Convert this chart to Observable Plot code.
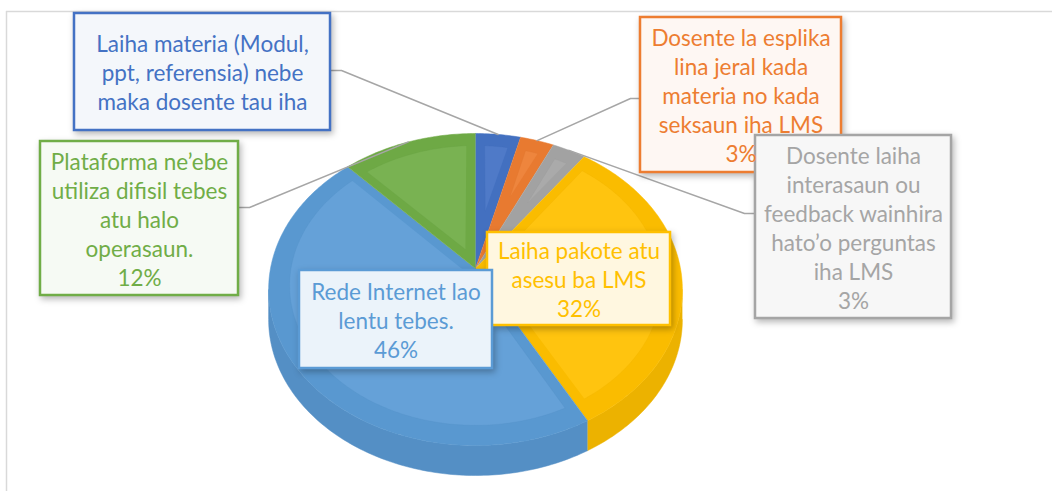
<!DOCTYPE html>
<html><head><meta charset="utf-8">
<script src="https://cdn.jsdelivr.net/npm/d3@7"></script>
<script src="https://cdn.jsdelivr.net/npm/@observablehq/plot@0.6"></script>
<style>html,body{margin:0;padding:0;background:#fff;}</style>
</head><body><div id="chart"></div>
<script>
// ---- data ----
const categories = [
  "Laiha materia (Modul,\nppt, referensia) nebe\nmaka dosente tau iha",
  "Dosente la esplika\nlina jeral kada\nmateria no kada\nseksaun iha LMS",
  "Dosente laiha\ninterasaun ou\nfeedback wainhira\nhato’o perguntas\niha LMS",
  "Laiha pakote atu\nasesu ba LMS",
  "Rede Internet lao\nlentu tebes.",
  "Plataforma ne’ebe\nutiliza difisil tebes\natu halo\noperasaun."
];
const values = [4, 3, 3, 32, 46, 12];
const percentLabels = ["", "3%", "3%", "32%", "46%", "12%"];
const colors = ["#4472C4", "#ED7D31", "#A5A5A5", "#FFC000", "#5B9BD5", "#70AD47"];

// ---- layout (positions / styles, not data) ----
const W = 1052, H = 491;
const geo = {cx: 475, A: 205, AY: 117.1, B: 268, C: -0.1346, depth: 30, ri: 0.9, d: 0.05};
const boxes = [
  {x1: 74, y1: 13, x2: 330, y2: 130, elbow: [[330, 70], [341, 70]], bgMix: 0.06},
  {x1: 640, y1: 17, x2: 841, y2: 172, elbow: [[640, 98], [630, 98]], bgMix: 0.06},
  {x1: 755, y1: 135, x2: 951, y2: 318, elbow: [[755, 213], [744, 213]], bgMix: 0.09},
  {x1: 487, y1: 232, x2: 670, y2: 325, elbow: null, bgMix: 0.12},
  {x1: 299, y1: 270, x2: 492, y2: 368, elbow: null, bgMix: 0.12},
  {x1: 40, y1: 141, x2: 238, y2: 295, elbow: [[238, 207], [249, 207]], bgMix: 0.06}
];

// ---- geometry from values ----
function proj(theta, r, dz = 0) {
  const u = r * Math.sin(theta), v = -r * Math.cos(theta);
  const w = 1 + geo.C * v;
  return [geo.cx + geo.A * u / w, (geo.AY * v + geo.B) / w + dz];
}
function arcPts(a0, a1, r, dz) {
  const n = Math.max(2, Math.ceil((a1 - a0) / (Math.PI / 180)));
  return d3.range(n + 1).map(i => proj(a0 + (a1 - a0) * i / n, r, dz));
}
const arcs = d3.pie().sort(null).value(d => d)(values);
const S0 = Math.acos(geo.C), S1 = 2 * Math.PI - S0;

const sidePts = [], topPts = [], innerPts = [], leaderPts = [];
arcs.forEach((a, i) => {
  const c = colors[i];
  const lo = Math.max(a.startAngle, S0), hi = Math.min(a.endAngle, S1);
  if (hi > lo) {
    const col = d3.color(c).darker(0.22).formatHex();
    const pts = arcPts(lo, hi, 1, 0).concat(arcPts(lo, hi, 1, geo.depth).reverse());
    pts.forEach(p => sidePts.push({x: p[0], y: p[1], k: i, fill: col}));
  }
  const band = d3.color(c).darker(0.06).formatHex();
  [proj(0, 0)].concat(arcPts(a.startAngle, a.endAngle, 1, 0))
    .forEach(p => topPts.push({x: p[0], y: p[1], k: i, fill: band}));
  const span = a.endAngle - a.startAngle;
  const inner = d3.interpolateRgb(c, "#ffffff")(0.06);
  const edge = d3.color(c).darker(0.2).formatHex();
  const off = Math.asin(geo.d / geo.ri);
  [proj((a.startAngle + a.endAngle) / 2, geo.d / Math.sin(span / 2))]
    .concat(arcPts(a.startAngle + off, a.endAngle - off, geo.ri, 0))
    .forEach(p => innerPts.push({x: p[0], y: p[1], k: i, fill: inner, edge}));
  const b = boxes[i];
  if (b.elbow) {
    const end = proj((a.startAngle + a.endAngle) / 2, 1);
    b.elbow.concat([end]).forEach(p => leaderPts.push({x: p[0], y: p[1], k: i}));
  }
});

const labelRows = categories.map((c, i) => ({
  ...boxes[i],
  cx: (boxes[i].x1 + boxes[i].x2) / 2,
  cy: (boxes[i].y1 + boxes[i].y2) / 2,
  text: percentLabels[i] ? c + "\n" + percentLabels[i] : c,
  color: colors[i],
  bg: d3.interpolateRgb("#ffffff", colors[i])(boxes[i].bgMix)
}));

const chart = Plot.plot({
  width: W, height: H, margin: 0,
  x: {domain: [0, W], range: [0, W], axis: null},
  y: {domain: [0, H], range: [0, H], axis: null},
  color: {type: "identity"},
  style: {fontFamily: "Lato, 'Open Sans', sans-serif", background: "#fff"},
  marks: [
    Plot.ruleY([11], {x1: 6, x2: W, stroke: "#d9d9d9", strokeWidth: 1.5}),
    Plot.ruleX([6], {y1: 11, y2: H, stroke: "#d9d9d9", strokeWidth: 1.5}),
    Plot.line(sidePts, {x: "x", y: "y", z: "k", fill: "fill", stroke: "fill", strokeWidth: 0.5}),
    Plot.line(topPts, {x: "x", y: "y", z: "k", fill: "fill", stroke: "fill", strokeWidth: 0.5}),
    Plot.line(innerPts, {x: "x", y: "y", z: "k", fill: "fill", stroke: "edge", strokeWidth: 0.6, strokeOpacity: 0.5}),
    Plot.line(leaderPts, {x: "x", y: "y", z: "k", stroke: "#a6a6a6", strokeWidth: 1.5}),
    Plot.rect(labelRows, {x1: "x1", x2: "x2", y1: "y1", y2: "y2", fill: "bg", stroke: "color", strokeWidth: 2.5}),
    Plot.text(labelRows, {x: "cx", y: "cy", text: "text", fill: "color", fontSize: 22.5, lineHeight: 1.29, textAnchor: "middle"})
  ]
});
chart.querySelectorAll('g[aria-label="rect"]').forEach(g => g.style.filter = "drop-shadow(2px 3px 3px rgba(0,0,0,0.28))");
document.getElementById("chart").appendChild(chart);
</script>
</body></html>
